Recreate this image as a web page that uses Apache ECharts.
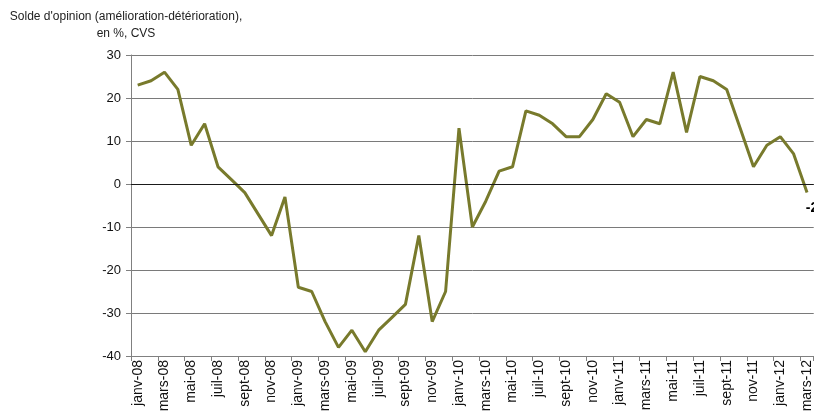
<!DOCTYPE html>
<html>
<head>
<meta charset="utf-8">
<script src="https://cdn.jsdelivr.net/npm/echarts@6/dist/echarts.min.js"></script>
<style>html,body{margin:0;padding:0;background:#fff}#c{width:814px;height:416px}</style>
</head>
<body>
<div id="c"></div>
<script>
var months = ['janv','févr','mars','avr','mai','juin','juil','août','sept','oct','nov','déc'];
var categories = [];
for (var y = 8; y <= 12; y++) {
  for (var m = 0; m < 12; m++) {
    if (y === 12 && m > 2) break;
    categories.push(months[m] + '-' + (y < 10 ? '0' + y : y));
  }
}
var values = [23, 24, 26, 22, 9, 14, 4, 1, -2, -7, -12, -3,
  -24, -25, -32, -38, -34, -39, -34, -31, -28, -12, -32, -25,
  13, -10, -4, 3, 4, 17, 16, 14, 11, 11, 15, 21,
  19, 11, 15, 14, 26, 12, 25, 24, 22, 13, 4, 9,
  11, 7, -2];
var yTicks = {min: -40, max: 30, interval: 10};
var titleLines = ["Solde d'opinion (amélioration-détérioration),", "en %, CVS"];

var FONT = '"Liberation Sans", Arial, sans-serif';
var seriesData = values.map(function (v, i) {
  if (i === values.length - 1) {
    return {value: v, symbol: 'circle', symbolSize: 1,
      itemStyle: {color: 'rgba(0,0,0,0)'},
      label: {show: true, position: 'bottom', distance: 8, offset: [5, 0], formatter: '{c}',
      fontFamily: FONT, fontSize: 14, fontWeight: 'bold', color: '#000'}};
  }
  return v;
});

var chart = echarts.init(document.getElementById('c'));
chart.setOption({
  animation: false,
  title: {
    text: titleLines.join('\n'), left: 121, top: 3, textAlign: 'center',
    textStyle: {fontFamily: FONT, fontSize: 12, fontWeight: 'normal', color: '#222', lineHeight: 17, align: 'center'}
  },
  grid: {left: 131, right: -3, top: 55, bottom: 60},
  xAxis: [{
    type: 'category', data: categories, boundaryGap: true,
    axisLine: {onZero: false, lineStyle: {color: '#808080', width: 1}},
    axisTick: {show: false},
    axisLabel: {interval: 1, rotate: 90, fontFamily: FONT, fontSize: 14, color: '#111', margin: 4},
    splitLine: {show: false}
  }, {
    type: 'value', position: 'bottom', min: 0, max: categories.length, interval: 2,
    axisLine: {show: false, onZero: false},
    axisTick: {show: true, length: 5, lineStyle: {color: '#808080', width: 1}},
    axisLabel: {show: false},
    splitLine: {show: false}
  }],
  yAxis: {
    type: 'value', min: yTicks.min, max: yTicks.max, interval: yTicks.interval,
    axisLine: {show: true, lineStyle: {color: '#808080', width: 1}},
    axisTick: {show: true, length: 5, lineStyle: {color: '#808080'}},
    axisLabel: {fontFamily: FONT, fontSize: 13, color: '#111', margin: 10},
    splitLine: {lineStyle: {color: '#7a7a7a', width: 1}}
  },
  series: [{
    type: 'line', xAxisIndex: 0, data: seriesData, symbol: 'none', showSymbol: true,
    lineStyle: {color: '#787a2c', width: 3},
    markLine: {silent: true, symbol: 'none', label: {show: false},
      lineStyle: {color: '#1a1a1a', width: 1, type: 'solid'}, data: [{yAxis: 0}]}
  }]
});
</script>
</body>
</html>
